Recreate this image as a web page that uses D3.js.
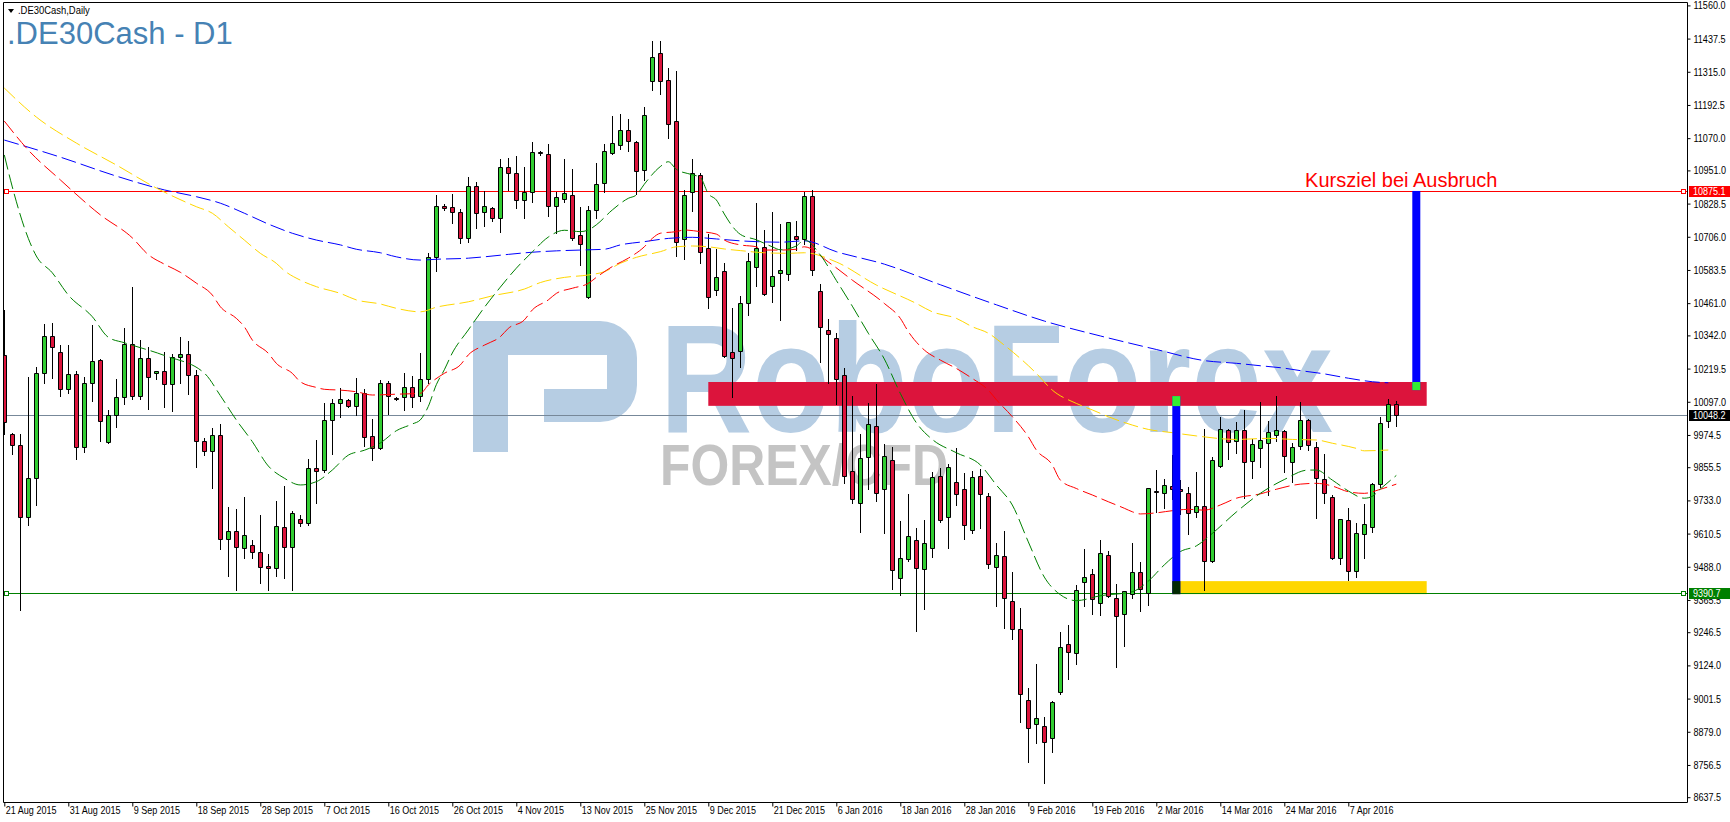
<!DOCTYPE html>
<html>
<head>
<meta charset="utf-8">
<script src="https://cdn.jsdelivr.net/npm/d3@7"></script>
<style>
  html, body { margin: 0; padding: 0; background: #fff; }
  svg { display: block; }
  .mt text { font-family: "Liberation Sans", Arial, sans-serif; font-size: 11px; }
</style>
</head>
<body>
<svg id="chart" width="1730" height="822"></svg>
<script>
// ---- data ----
const dateLabels = ["21 Aug 2015","31 Aug 2015","9 Sep 2015","18 Sep 2015","28 Sep 2015","7 Oct 2015",
  "16 Oct 2015","26 Oct 2015","4 Nov 2015","13 Nov 2015","25 Nov 2015","9 Dec 2015","21 Dec 2015",
  "6 Jan 2016","18 Jan 2016","28 Jan 2016","9 Feb 2016","19 Feb 2016","2 Mar 2016","14 Mar 2016",
  "24 Mar 2016","7 Apr 2016"];
const barsPerLabel = 8;

const priceTicks = [11560.0,11437.5,11315.0,11192.5,11070.0,10951.0,10828.5,10706.0,10583.5,10461.0,
  10342.0,10219.5,10097.0,9974.5,9855.5,9733.0,9610.5,9488.0,9365.5,9246.5,9124.0,9001.5,8879.0,8756.5,8637.5];

const open = [10268,9978,9936,9673,9814,10202,10338,10279,10143,10198,
  9929,10165,10250,9949,10047,10114,10309,10119,10257,10202,
  10209,10164,10264,10272,10194,9951,9917,9973,9589,9620,
  9559,9570,9541,9490,9482,9633,9562,9666,9648,9851,
  9845,10029,10091,10103,10082,10128,9970,9927,10168,10112,
  10113,10150,10118,10180,10630,10818,10815,10796,10700,10892,
  10796,10811,10774,10963,10940,10841,10870,11018,11011,10819,
  10844,10859,10712,10483,10804,10903,11017,11044,11100,11054,
  10952,11282,11384,11283,11133,10696,10870,10933,10663,10508,
  10578,10279,10285,10460,10593,10667,10523,10571,10567,10709,
  10699,10856,10505,10362,10331,10195,9840,9722,9892,10006,
  9774,9881,9445,9515,9585,9478,9559,9822,9673,9800,
  9774,9622,9822,9748,9486,9527,9360,9258,8998,8906,
  8902,8857,9027,9203,9171,9433,9461,9355,9531,9371,
  9314,9386,9468,9393,9767,9759,9785,9774,9762,9689,
  9712,9511,9860,9993,9951,9992,9877,9925,9944,9973,
  9988,9873,9933,10029,9931,9813,9746,9522,9659,9472,
  9608,9634,9792,10026,10088];
const high = [10436,9983,9977,10189,10226,10384,10389,10306,10306,10210,
  10187,10380,10255,10066,10181,10368,10522,10325,10298,10209,
  10279,10272,10335,10321,10216,9962,9999,10015,9709,9703,
  9746,9586,9679,9535,9732,9786,9695,9679,9884,9955,
  10091,10106,10146,10108,10183,10143,10035,10177,10174,10114,
  10202,10192,10276,10645,10860,10826,10863,10809,10926,10908,
  10875,10815,10993,10996,11004,10963,11057,11024,11047,10873,
  10993,10956,10817,10820,10980,11048,11152,11161,11139,11058,
  11186,11430,11430,11330,11319,10878,10993,10940,10716,10661,
  10610,10444,10487,10647,10829,10731,10796,10755,10762,10765,
  10872,10880,10530,10403,10350,10220,10120,9977,10091,10161,
  9941,9931,9657,9755,9630,9661,9836,9851,9867,9925,
  9833,9840,9849,9759,9574,9620,9470,9335,9039,9129,
  8934,8992,9247,9273,9420,9553,9478,9586,9546,9423,
  9400,9577,9505,9780,9845,9812,9900,9808,9783,9836,
  9997,9894,10040,9997,10021,10067,9961,10096,10026,10118,
  9993,9945,10096,10035,9947,9904,9753,9666,9704,9648,
  9718,9796,10040,10107,10100];
const low = [9977,9904,9330,9642,9716,10165,10183,10119,10128,9884,
  9910,10101,9953,9946,10005,10089,10108,10107,10071,10182,
  10079,10064,10167,10127,9855,9900,9779,9554,9453,9404,
  9522,9522,9429,9402,9453,9447,9402,9638,9644,9724,
  9839,9906,10042,10078,10048,9933,9882,9921,10051,10104,
  10067,10077,10101,10168,10581,10805,10756,10682,10688,10737,
  10744,10766,10725,10879,10814,10777,10836,11008,10784,10719,
  10833,10694,10602,10480,10777,10872,11010,11030,11022,10864,
  10915,11248,11232,11072,10636,10625,10802,10608,10444,10491,
  10263,10115,10224,10417,10524,10490,10466,10399,10546,10657,
  10680,10565,10245,10168,10089,9796,9722,9615,9774,9732,
  9611,9407,9384,9510,9252,9331,9525,9652,9559,9715,
  9589,9611,9632,9482,9345,9263,9223,8916,8768,8836,
  8691,8805,9018,9075,9129,9343,9313,9310,9378,9119,
  9195,9372,9326,9347,9691,9706,9737,9684,9610,9673,
  9402,9507,9856,9887,9909,9743,9817,9857,9754,9953,
  9839,9802,9923,9918,9669,9722,9515,9497,9439,9449,
  9519,9618,9781,10005,10009];
const close = [10021,9936,9673,9814,10202,10338,10301,10143,10198,9929,
  10165,10246,10025,10047,10114,10309,10119,10257,10187,10209,
  10164,10264,10272,10194,9951,9917,9973,9589,9620,9562,
  9607,9541,9489,9482,9638,9562,9685,9648,9851,9842,
  10029,10091,10109,10082,10128,9968,9927,10168,10119,10108,
  10150,10113,10180,10630,10819,10814,10796,10700,10892,10793,
  10819,10774,10963,10940,10841,10870,11018,11016,10819,10852,
  10867,10700,10678,10804,10900,11022,11051,11100,11060,10950,
  11154,11369,11282,11124,10685,10860,10940,10648,10485,10556,
  10267,10259,10460,10616,10663,10493,10560,10583,10759,10699,
  10856,10583,10372,10346,10180,9823,9737,9888,10014,9759,
  9896,9475,9519,9600,9482,9574,9818,9659,9855,9755,
  9644,9818,9755,9500,9530,9374,9260,9020,8894,8928,
  8840,8988,9191,9174,9402,9449,9370,9538,9381,9307,
  9398,9468,9407,9777,9763,9788,9775,9767,9685,9711,
  9508,9881,9995,9947,9992,9873,9940,9955,9987,9992,
  9896,9929,10029,9936,9814,9759,9522,9663,9472,9613,
  9645,9792,10017,10090,10048];

// moving averages, [bar, value] read at sample bars
const maFast = [[0,11008],[1,10890],[3,10700],[4,10635],[6,10573],[8,10491],[11,10411],[13,10335],[15,10315],
  [20,10268],[25,10203],[27,10120],[29,10030],[31,9950],[33,9860],[35,9815],[37,9790],[39,9802],[41,9845],
  [43,9900],[45,9918],[47,9945],[49,9990],[51,10015],[52,10030],[53,10080],[54,10160],[55,10215],[56,10277],
  [58,10362],[60,10445],[62,10520],[64,10590],[66,10650],[68,10705],[70,10730],[72,10725],[73,10731],
  [74,10750],[76,10805],[78,10848],[79,10860],[80,10900],[82,10965],[83,10983],[84,10955],[86,10935],
  [87,10925],[88,10865],[89,10842],[90,10790],[91,10745],[92,10715],[94,10695],[96,10669],[97,10658],
  [99,10672],[100,10694],[102,10639],[104,10545],[106,10450],[108,10350],[110,10255],[112,10128],
  [114,10020],[116,9958],[119,9909],[122,9864],[124,9790],[126,9716],[128,9580],[130,9450],[132,9385],
  [134,9363],[137,9381],[141,9396],[143,9435],[145,9495],[147,9544],[149,9565],[151,9611],[154,9690],
  [157,9759],[160,9810],[163,9845],[164,9845],[166,9808],[168,9768],[170,9741],[171,9748],[172,9775],[174,9825]];
const maMid = [[0,11133],[3,11026],[7,10916],[12,10787],[16,10702],[18,10640],[20,10605],[22,10575],[24,10535],
  [26,10491],[27,10448],[29,10405],[30,10374],[31,10325],[33,10276],[34,10239],[36,10202],[37,10171],[39,10150],
  [40,10143],[42,10140],[44,10134],[46,10122],[49,10125],[52,10128],[53,10159],[55,10202],[57,10233],[58,10270],
  [60,10306],[62,10337],[63,10368],[65,10399],[66,10436],[68,10473],[69,10497],[71,10516],[73,10534],[74,10556],
  [76,10596],[78,10627],[80,10669],[81,10700],[82,10719],[84,10725],[85,10731],[87,10725],[89,10716],[90,10694],
  [92,10676],[94,10669],[95,10657],[97,10657],[99,10660],[100,10669],[103,10613],[106,10546],[110,10460],
  [112,10405],[113,10356],[115,10288],[117,10251],[119,10220],[121,10183],[123,10140],[124,10105],[126,10042],
  [128,9968],[129,9919],[131,9864],[132,9808],[134,9777],[136,9753],[138,9728],[140,9704],[141,9691],[142,9683],
  [144,9687],[146,9695],[148,9700],[150,9697],[152,9716],[154,9741],[157,9757],[159,9774],[162,9793],[164,9796],
  [166,9786],[168,9765],[170,9759],[172,9774],[174,9793]];
const maSlow = [[0,11255],[4,11148],[9,11052],[14,10971],[19,10886],[24,10817],[26,10793],[28,10743],[30,10694],
  [32,10645],[34,10608],[35,10581],[37,10546],[39,10522],[42,10497],[44,10473],[47,10458],[49,10442],[52,10429],
  [54,10446],[58,10466],[61,10488],[65,10513],[67,10537],[70,10556],[73,10565],[75,10577],[77,10608],[79,10630],
  [82,10651],[84,10669],[86,10672],[88,10669],[90,10661],[92,10655],[95,10647],[98,10645],[100,10647],[104,10613],
  [109,10528],[114,10460],[116,10429],[119,10405],[121,10374],[123,10350],[125,10306],[129,10202],[131,10140],
  [134,10091],[136,10067],[138,10042],[141,10011],[143,9995],[146,9983],[149,9971],[154,9958],[158,9962],
  [161,9958],[164,9956],[166,9944],[169,9925],[170,9916],[173,9919]];
const maLong = [[0,11063],[7,11000],[14,10930],[20,10879],[24,10854],[27,10830],[30,10793],[33,10753],[36,10719],
  [39,10694],[42,10676],[44,10660],[47,10647],[49,10632],[52,10620],[54,10623],[58,10627],[60,10632],[63,10641],
  [66,10649],[69,10654],[72,10657],[75,10660],[77,10676],[80,10688],[83,10700],[86,10704],[89,10698],[92,10691],
  [94,10688],[97,10686],[100,10691],[104,10651],[110,10605],[117,10529],[124,10455],[130,10395],[137,10340],
  [144,10290],[150,10249],[154,10239],[157,10230],[160,10221],[162,10212],[165,10200],[168,10184],[171,10171],[173,10167]];

// horizontal levels
const targetLevel = 10875.1;
const bidLevel = 10048.2;
const supportLevel = 9390.7;

// drawn objects: [bar from, bar to, price low, price high]
const resistanceZone = [88, 177.8, 10082, 10170];
const supportZone = [146, 177.8, 9387, 9435];
// measured legs: [bar, price low, price high]
const legs = [[146.5, 9387, 10118], [176.5, 10140, 10875.1]];
const legTips = [[146.5, 10081, 10118], [176.5, 10140, 10170]];
const legBase = [[146.5, 9387, 9435]];
const targetNote = ["Kursziel bei Ausbruch", 162.6, 10875.1];

// ---- chart ----
const W = 1730, H = 822;
const plotL = 3, plotR = 1687, plotT = 2, plotB = 802;
const narrow = 0.82; // MT4 scale font is narrower than Liberation Sans

const svg = d3.select("#chart").attr("class", "mt");
svg.append("rect").attr("width", W).attr("height", H).attr("fill", "#fff");

svg.append("defs").append("clipPath").attr("id", "clip")
  .append("rect").attr("x", plotL).attr("y", plotT)
  .attr("width", plotR - plotL).attr("height", plotB - plotT);

const x = d3.scaleLinear().domain([0, 174]).range([4.3, 1396.3]);
const y = d3.scaleLinear().domain([8637.5, 11560]).range([797.2, 5.4]);
const px = v => Math.round(v) + 0.5;

function squeeze(sel) {
  sel.each(function () {
    const w = this.getComputedTextLength();
    d3.select(this).attr("textLength", w * narrow).attr("lengthAdjust", "spacingAndGlyphs");
  });
}

const plot = svg.append("g").attr("clip-path", "url(#clip)");

// watermark
const wm = plot.append("g");
wm.append("path")
  .attr("d", "M473,321 H600 A37,37 0 0 1 637,358 V385 A37,37 0 0 1 600,422 H544 V389 H607 V355 H508 V452 H473 Z")
  .attr("fill", "#b6cde3");
wm.append("text").attr("x", 660).attr("y", 432)
  .attr("textLength", 673).attr("lengthAdjust", "spacingAndGlyphs")
  .style("font-size", "154px").style("font-weight", "bold")
  .attr("fill", "#b6cde3").text("RoboForex");
wm.append("text").attr("x", 660).attr("y", 485)
  .attr("textLength", 288).attr("lengthAdjust", "spacingAndGlyphs")
  .style("font-size", "58px").style("font-weight", "bold")
  .attr("fill", "#c4c4c4").text("FOREX/CFD");

// zones
function zone(z, color) {
  plot.append("rect")
    .attr("x", x(z[0])).attr("width", x(z[1]) - x(z[0]))
    .attr("y", y(z[3])).attr("height", y(z[2]) - y(z[3]))
    .attr("fill", color);
}
zone(resistanceZone, "#dc143c");
zone(supportZone, "#ffd700");

// horizontal lines
function hline(v, color) {
  plot.append("line").attr("x1", plotL).attr("x2", plotR)
    .attr("y1", px(y(v))).attr("y2", px(y(v)))
    .attr("stroke", color).attr("stroke-width", 1);
}
hline(targetLevel, "#ff0000");
hline(bidLevel, "#778899");
hline(supportLevel, "#008000");
[[targetLevel, "#ff0000"], [supportLevel, "#008000"]].forEach(([v, c]) => {
  [plotL + 1.5, plotR - 5.5].forEach(xx => {
    plot.append("rect").attr("x", xx).attr("y", px(y(v)) - 2)
      .attr("width", 4).attr("height", 4)
      .attr("fill", "#fff").attr("stroke", c).attr("stroke-width", 1);
  });
});

// candles
const candles = plot.append("g");
open.forEach((o, i) => {
  const cx = px(x(i));
  const c = close[i];
  candles.append("line")
    .attr("x1", cx).attr("x2", cx)
    .attr("y1", Math.round(y(high[i]))).attr("y2", Math.round(y(low[i])) + 1)
    .attr("stroke", "#000").attr("stroke-width", 1);
  const top = px(y(Math.max(o, c)));
  const bot = px(y(Math.min(o, c)));
  candles.append("path")
    .attr("d", `M${cx - 2},${top}H${cx + 2}V${bot}H${cx - 2}Z`)
    .attr("fill", c >= o ? "#32cd32" : "#dc143c")
    .attr("stroke", "#000").attr("stroke-width", 1);
});

// moving averages
const maLine = d3.line().x(d => x(d[0])).y(d => y(d[1])).curve(d3.curveMonotoneX);
[[maLong, "#0000ff"], [maSlow, "#ffd700"], [maMid, "#ff0000"], [maFast, "#008000"]].forEach(([d, c]) => {
  plot.append("path").attr("d", maLine(d))
    .attr("fill", "none").attr("stroke", c).attr("stroke-width", 1)
    .attr("stroke-dasharray", "15,5");
});

// measured legs
legs.forEach(l => {
  plot.append("rect").attr("x", x(l[0]) - 4).attr("width", 8)
    .attr("y", y(l[2])).attr("height", y(l[1]) - y(l[2]))
    .attr("fill", "#0000ff");
});
legTips.forEach(l => {
  plot.append("rect").attr("x", x(l[0]) - 4).attr("width", 8)
    .attr("y", y(l[2])).attr("height", y(l[1]) - y(l[2]))
    .attr("fill", "#33ee33");
});
legBase.forEach(l => {
  plot.append("rect").attr("x", x(l[0]) - 4).attr("width", 8)
    .attr("y", y(l[2])).attr("height", y(l[1]) - y(l[2]))
    .attr("fill", "#032a03");
});

plot.append("text")
  .attr("x", x(targetNote[1])).attr("y", y(targetNote[2]) - 4)
  .style("font-size", "20px")
  .attr("fill", "#ff0000").text(targetNote[0]);

// frame
svg.append("path")
  .attr("d", `M${plotL + 0.5},${plotB + 0.5}V${plotT + 0.5}H${plotR + 0.5}V${plotB + 0.5}H${plotL + 0.5}`)
  .attr("fill", "none").attr("stroke", "#000").attr("stroke-width", 1);

// price axis
const yAxis = svg.append("g").attr("transform", `translate(${plotR + 0.5},0)`)
  .call(d3.axisRight(y).tickValues(priceTicks).tickFormat(d3.format(".1f"))
    .tickSize(3).tickSizeOuter(0).tickPadding(3));
yAxis.select(".domain").remove();
yAxis.attr("font-family", null).attr("font-size", null);
yAxis.selectAll("text").attr("fill", "#000").style("font-size", "11px").call(squeeze);
yAxis.selectAll("line").attr("stroke", "#000");

// time axis
const labelBars = dateLabels.map((d, i) => i * barsPerLabel);
const xAxis = svg.append("g").attr("transform", `translate(0,${plotB + 0.5})`)
  .call(d3.axisBottom(x).tickValues(labelBars).tickFormat((d, i) => dateLabels[i])
    .tickSize(4).tickSizeOuter(0));
xAxis.select(".domain").remove();
xAxis.attr("font-family", null).attr("font-size", null);
xAxis.selectAll(".tick line").attr("stroke", "#000");
xAxis.selectAll("text").attr("text-anchor", "start").attr("x", 1).attr("y", 4).attr("fill", "#000")
  .style("font-size", "11px").call(squeeze);

// level boxes on the price axis
[[targetLevel, "#ff0000"], [bidLevel, "#000000"], [supportLevel, "#008000"]].forEach(([v, c]) => {
  const yy = Math.round(y(v));
  svg.append("rect").attr("x", plotR + 2).attr("y", yy - 5).attr("width", W - plotR - 2).attr("height", 11)
    .attr("fill", c);
  svg.append("text").attr("x", plotR + 6).attr("y", yy + 4)
    .attr("fill", "#fff").style("font-size", "11px").text(d3.format(".1f")(v)).call(squeeze);
});

// titles
svg.append("path").attr("d", "M8,9H14L11,13Z").attr("fill", "#000");
svg.append("text").attr("x", 18).attr("y", 14).attr("fill", "#000")
  .style("font-size", "11.5px").text(".DE30Cash,Daily").call(squeeze);
svg.append("text").attr("x", 7).attr("y", 44).attr("fill", "#4682b4")
  .style("font-size", "31px")
  .text(".DE30Cash - D1");
</script>
</body>
</html>
